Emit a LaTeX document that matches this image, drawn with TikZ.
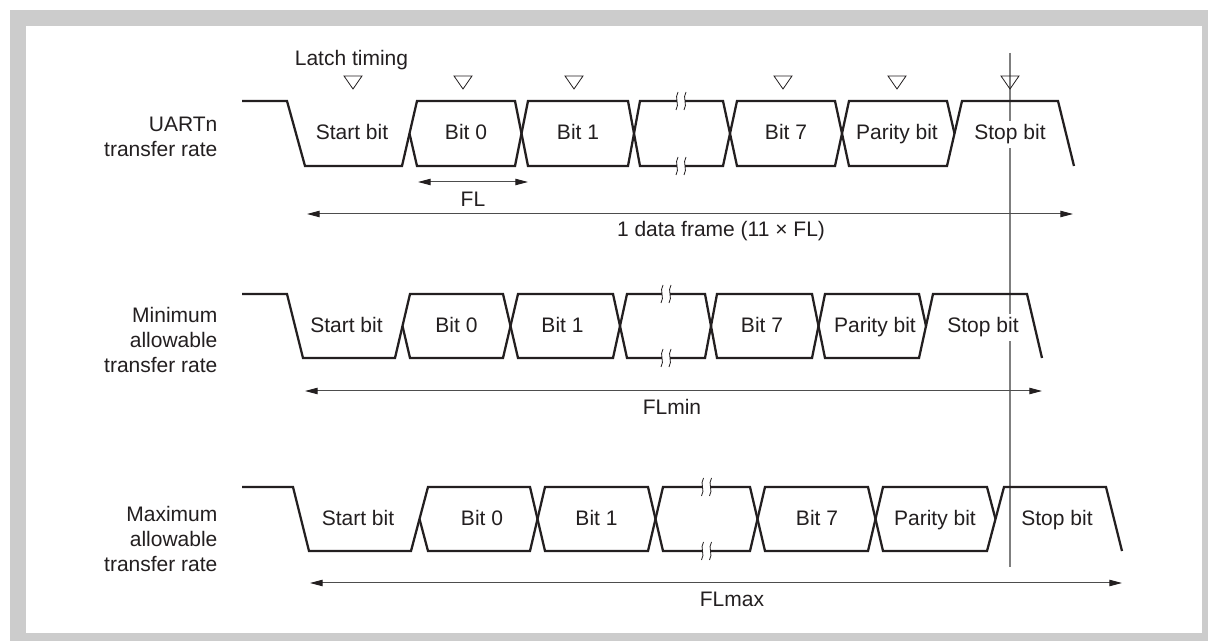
\documentclass[tikz,border=0pt]{standalone}
\usepackage{fontspec}
\setmainfont{Liberation Sans}
\usetikzlibrary{arrows.meta}

\definecolor{inkgray}{HTML}{231F20}
\definecolor{framegray}{HTML}{CCCCCC}
\definecolor{rulegray}{HTML}{7F7F7F}
\definecolor{dimgray}{HTML}{4D4D4D}

\tikzset{
  wave/.style={line width=1.7pt,color=inkgray,line join=miter},
  latchmark/.style={line width=0.6pt,color=inkgray,line join=miter},
  dimline/.style={line width=0.75pt,color=dimgray,{Triangle[length=9.5pt,width=4.8pt,color=inkgray]}-{Triangle[length=9.5pt,width=4.8pt,color=inkgray]}},
  bitlabel/.style={anchor=base},
  masked/.style={anchor=base,fill=white,inner xsep=0pt,inner ysep=2.5pt},
  rowlabel/.style={anchor=east,align=right}
}

\begin{document}
\begin{tikzpicture}[x=0.75pt,y=-0.75pt,line cap=butt,every node/.style={inner sep=1pt,text=inkgray,font=\fontsize{15.75}{18.75}\selectfont}]
  \useasboundingbox (0,0) rectangle (1208,641);
  \fill[framegray] (10,10) rectangle (1208,641);
  \fill[white] (26,26) rectangle (1202,633);

  % sampling point of the stop bit
  \coordinate (vtop) at (1010,53);
  \coordinate (vbot) at (1010,567);
  \draw[rulegray,line width=1pt] (vtop) -- (vbot);

  % UARTn transfer rate
  \draw[wave] (242,101) -- (287,101) -- (305,166) -- (402,166) -- (417,101) -- (515,101) -- (528,166) -- (628,166) -- (640,101) -- (723,101) -- (737,166) -- (835,166) -- (849,101) -- (947,101) -- (954.5,133.5);
  \draw[wave] (409.5,133.5) -- (417,166) -- (515,166) -- (528,101) -- (628,101) -- (640,166) -- (723,166) -- (737,101) -- (835,101) -- (849,166) -- (947,166) -- (962,101) -- (1058,101) -- (1074,166);

  % minimum allowable transfer rate
  \draw[wave] (242,294) -- (287,294) -- (303,358) -- (395,358) -- (410,294) -- (503,294) -- (518,358) -- (613,358) -- (627,294) -- (705,294) -- (717,358) -- (812,358) -- (825,294) -- (919,294) -- (926,326);
  \draw[wave] (402.5,326) -- (410,358) -- (503,358) -- (518,294) -- (613,294) -- (627,358) -- (705,358) -- (717,294) -- (812,294) -- (825,358) -- (919,358) -- (933,294) -- (1027,294) -- (1042,358);

  % maximum allowable transfer rate
  \draw[wave] (242,487) -- (293,487) -- (309,551) -- (411,551) -- (428,487) -- (530,487) -- (545,551) -- (648,551) -- (663,487) -- (750,487) -- (765,551) -- (868,551) -- (883,487) -- (987,487) -- (995.5,519);
  \draw[wave] (419.5,519) -- (428,551) -- (530,551) -- (545,487) -- (648,487) -- (663,551) -- (750,551) -- (765,487) -- (868,487) -- (883,551) -- (987,551) -- (1004,487) -- (1106,487) -- (1122,551);

  % breaks
  \foreach \bx/\by in {681/101,681/166,666/294,666/358,706.5/487,706.5/551} {
    \fill[white] (\bx-4,\by-2) rectangle (\bx+4,\by+2);
    \draw[latchmark] (\bx-3,\by-9) .. controls (\bx-7,\by-3) and (\bx-1,\by+3) .. (\bx-5,\by+9);
    \draw[latchmark] (\bx+5,\by-9) .. controls (\bx+1,\by-3) and (\bx+7,\by+3) .. (\bx+3,\by+9);
  }

  % latch timing
  \node[anchor=base] (latch) at (351.5,66) {Latch timing};
  \foreach \x in {353,463,574,783,897,1010} {
    \draw[latchmark] (\x-9,76) -- (\x+9,76) -- (\x,89) -- cycle;
  }

  % bit names
  \foreach \nm/\x/\txt in {s/352/Start bit,b0/466/Bit 0,b1/578/Bit 1,b7/786/Bit 7,p/897/Parity bit} {
    \node[bitlabel] (ra\nm) at (\x,140) {\txt};
  }
  \node[masked] (rastop) at (1010,140) {Stop bit};
  \foreach \nm/\x/\txt in {s/346.5/Start bit,b0/456.5/Bit 0,b1/562.5/Bit 1,b7/762/Bit 7,p/875/Parity bit} {
    \node[bitlabel] (rb\nm) at (\x,333) {\txt};
  }
  \node[masked] (rbstop) at (983,333) {Stop bit};
  \foreach \nm/\x/\txt in {s/358/Start bit,b0/482/Bit 0,b1/596.5/Bit 1,b7/817/Bit 7,p/935/Parity bit,stop/1057/Stop bit} {
    \node[bitlabel] (rc\nm) at (\x,526) {\txt};
  }

  % row names
  \node[rowlabel] (uartn) at (219,137) {UARTn\\transfer rate};
  \node[rowlabel] (minrate) at (219,340) {Minimum\\allowable\\transfer rate};
  \node[rowlabel] (maxrate) at (219,539) {Maximum\\allowable\\transfer rate};

  % lengths
  \coordinate (fl-l) at (418,182);
  \coordinate (fl-r) at (528,182);
  \draw[dimline] (fl-l) -- (fl-r);
  \node[anchor=base] (fl) at (473,207) {FL};

  \coordinate (frame-l) at (307,214);
  \coordinate (frame-r) at (1073,214);
  \draw[dimline] (frame-l) -- (frame-r);
  \node[anchor=base] (frame) at (721,237) {1 data frame (11 × FL)};

  \coordinate (flmin-l) at (305,391);
  \coordinate (flmin-r) at (1042,391);
  \draw[dimline] (flmin-l) -- (flmin-r);
  \node[anchor=base] (flmin) at (672,415) {FLmin};

  \coordinate (flmax-l) at (310,583);
  \coordinate (flmax-r) at (1122,583);
  \draw[dimline] (flmax-l) -- (flmax-r);
  \node[anchor=base] (flmax) at (732,607) {FLmax};
\end{tikzpicture}
\end{document}
